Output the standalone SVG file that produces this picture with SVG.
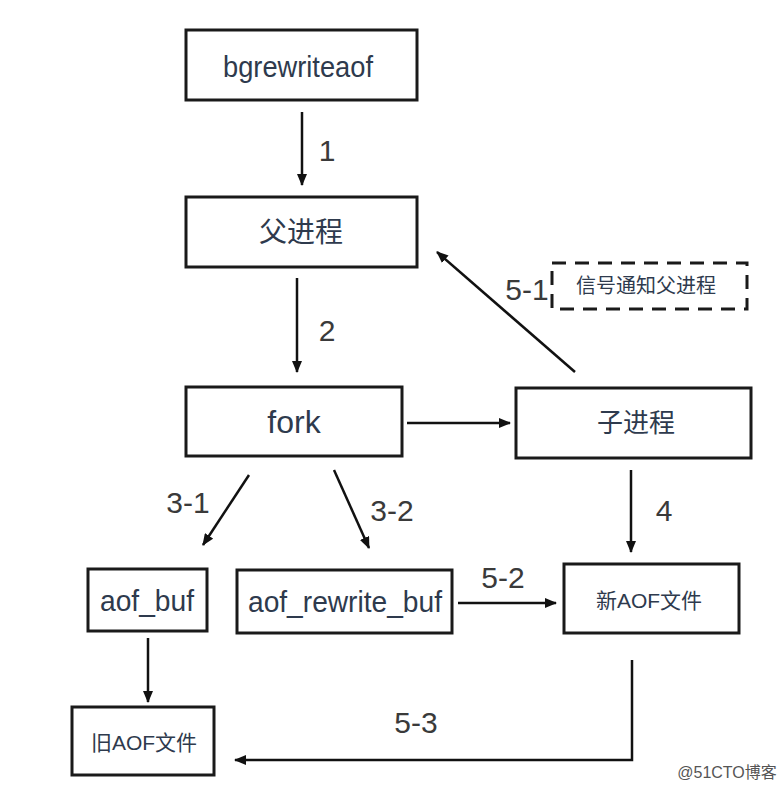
<svg xmlns="http://www.w3.org/2000/svg" width="784" height="790" viewBox="0 0 784 790">
<defs>
<marker id="ah" viewBox="0 0 12 10" refX="11" refY="5" markerWidth="12" markerHeight="10" markerUnits="userSpaceOnUse" orient="auto">
<path d="M0,0 L12,5 L0,10 Z" fill="#111"/>
</marker>
<style>
.box{fill:#fff;stroke:#1a1a1a;stroke-width:3}
.dash{fill:#fff;stroke:#1a1a1a;stroke-width:3;stroke-dasharray:14 9}
.t{font-family:"Liberation Sans","Noto Sans CJK SC",sans-serif;fill:#2e3a4d;text-anchor:middle;dominant-baseline:central}
.lab{font-family:"Liberation Sans",sans-serif;fill:#3a3a3a;font-size:30px;text-anchor:middle;dominant-baseline:central}
.c{stroke:#111;stroke-width:2.5;fill:none;marker-end:url(#ah)}
</style>
</defs>
<rect width="784" height="790" fill="#fff"/>
<g id="n-bgrewriteaof"><rect class="box" x="186" y="30" width="231" height="70"/><text class="t" x="298" y="66" font-size="30" textLength="150" lengthAdjust="spacingAndGlyphs">bgrewriteaof</text></g>
<g id="n-parent"><rect class="box" x="186" y="197" width="231" height="70"/><text class="t" x="301" y="232" font-size="28">父进程</text></g>
<g id="n-signal"><rect class="dash" x="552" y="263" width="195" height="46"/><text class="t" x="646" y="286" font-size="20">信号通知父进程</text></g>
<g id="n-fork"><rect class="box" x="186" y="387" width="216" height="69"/><text class="t" x="294" y="422" font-size="32">fork</text></g>
<g id="n-child"><rect class="box" x="516" y="388" width="235" height="70"/><text class="t" x="636" y="423" font-size="26">子进程</text></g>
<g id="n-aofbuf"><rect class="box" x="88" y="569" width="119" height="62"/><text class="t" x="147" y="600" font-size="30" textLength="94" lengthAdjust="spacingAndGlyphs">aof_buf</text></g>
<g id="n-rewritebuf"><rect class="box" x="237" y="570" width="215" height="63"/><text class="t" x="345" y="601" font-size="30" textLength="194" lengthAdjust="spacingAndGlyphs">aof_rewrite_buf</text></g>
<g id="n-newaof"><rect class="box" x="564" y="564" width="175" height="69"/><text class="t" x="649" y="600" font-size="21">新AOF文件</text></g>
<g id="n-oldaof"><rect class="box" x="72" y="707" width="142" height="68"/><text class="t" x="144" y="742" font-size="21">旧AOF文件</text></g>
<g id="connectors">
<path class="c" d="M302,112 L302,185"/>
<text class="lab" x="327" y="150">1</text>
<path class="c" d="M297,278 L297,372"/>
<text class="lab" x="327" y="330">2</text>
<path class="c" d="M407,423 L510,423"/>
<path class="c" d="M575,372 L437,252"/>
<text class="lab" x="527" y="289">5-1</text>
<path class="c" d="M249,475 L203,545"/>
<text class="lab" x="188" y="502">3-1</text>
<path class="c" d="M334,470 L369,548"/>
<text class="lab" x="392" y="510">3-2</text>
<path class="c" d="M631,470 L631,552"/>
<text class="lab" x="664" y="510">4</text>
<path class="c" d="M458,603 L556,603"/>
<text class="lab" x="503" y="577">5-2</text>
<path class="c" d="M148,638 L148,702"/>
<path class="c" d="M632,660 L632,760 L235,760"/>
<text class="lab" x="416" y="722">5-3</text>
</g>
<text x="727" y="772" font-family="'Liberation Sans','Noto Sans CJK SC',sans-serif" font-size="16" fill="#555" text-anchor="middle" dominant-baseline="central">@51CTO博客</text>
</svg>
